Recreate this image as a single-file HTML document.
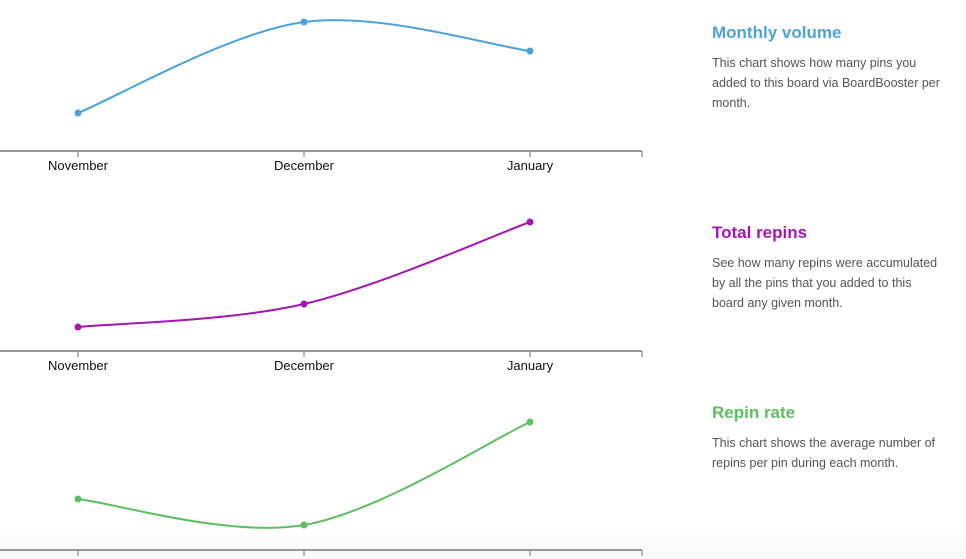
<!DOCTYPE html>
<html><head><meta charset="utf-8"><style>
body{margin:0;width:966px;height:559px;overflow:hidden;background:#fff;font-family:"Liberation Sans",sans-serif;}
.bg{position:absolute;left:0;top:530px;width:966px;height:29px;background:linear-gradient(#fff,#f8f8f8);}
.t{position:absolute;left:712px;font-weight:bold;font-size:17px;}
.d{position:absolute;left:712px;width:230px;font-size:12.5px;line-height:20px;color:#555;}
svg{position:absolute;left:0;top:0;}
</style></head><body>
<div class="bg"></div>
<svg id="c" width="966" height="559"></svg>
<div class="t" style="top:23px;color:#4aa3df">Monthly volume</div>
<div class="d" style="top:53px">This chart shows how many pins you added to this board via BoardBooster per month.</div>
<div class="t" style="top:223px;color:#a614b4">Total repins</div>
<div class="d" style="top:253px">See how many repins were accumulated by all the pins that you added to this board any given month.</div>
<div class="t" style="top:403px;color:#5cbf60">Repin rate</div>
<div class="d" style="top:433px">This chart shows the average number of repins per pin during each month.</div>
<script>
const months=["November","December","January"];
const volumeValues=[38,129,100];
const repinValues=[24,47,129];
const rateValues=[51,25,128];
const svg=document.getElementById('c');
const NS="http://www.w3.org/2000/svg";
function xScale(i){return 78+i*226;}
function mk(t,a){const e=document.createElementNS(NS,t);for(const k in a)e.setAttribute(k,a[k]);svg.appendChild(e);return e;}
function path(pts){let d="M"+pts[0][0]+","+pts[0][1];
 for(let i=0;i<pts.length-1;i++){const p0=pts[i-1]||pts[i],p1=pts[i],p2=pts[i+1],p3=pts[i+2]||p2;
  const c1=[p1[0]+(p2[0]-p0[0])/6,p1[1]+(p2[1]-p0[1])/6],c2=[p2[0]-(p3[0]-p1[0])/6,p2[1]-(p3[1]-p1[1])/6];
  d+="C"+c1+" "+c2+" "+p2;}
 return d;}
function chart(vals,axisY,color,name,labels){
 const yScale=v=>axisY-v;
 const ax=mk('line',{x1:0,x2:642,y1:axisY,y2:axisY,stroke:'#999','stroke-width':2});
 
 
 [0,1,2].forEach(i=>{const tk=mk('line',{x1:xScale(i),x2:xScale(i),y1:axisY,y2:axisY+6,stroke:'#777'});
  
  });
 const et=mk('line',{x1:642,x2:642,y1:axisY,y2:axisY+6,stroke:'#777'});
 
 
 if(labels)months.forEach((m,i)=>{const t=mk('text',{x:xScale(i),y:axisY+19,'text-anchor':'middle','font-size':13,fill:'#111','font-family':'Liberation Sans, sans-serif'});t.textContent=m;
  
  });
 const pts=vals.map((v,i)=>[xScale(i),yScale(v)]);
 const p=mk('path',{d:path(pts),fill:'none',stroke:color,'stroke-width':2});
 
 
 pts.forEach(q=>{const c=mk('circle',{cx:q[0],cy:q[1],r:3.5,fill:color});
  
  });
}
chart(volumeValues,151,'#4aa3df','monthly-volume',true);
chart(repinValues,351,'#a614b4','total-repins',true);
chart(rateValues,550,'#5cbf60','repin-rate',false);
</script>
</body></html>
